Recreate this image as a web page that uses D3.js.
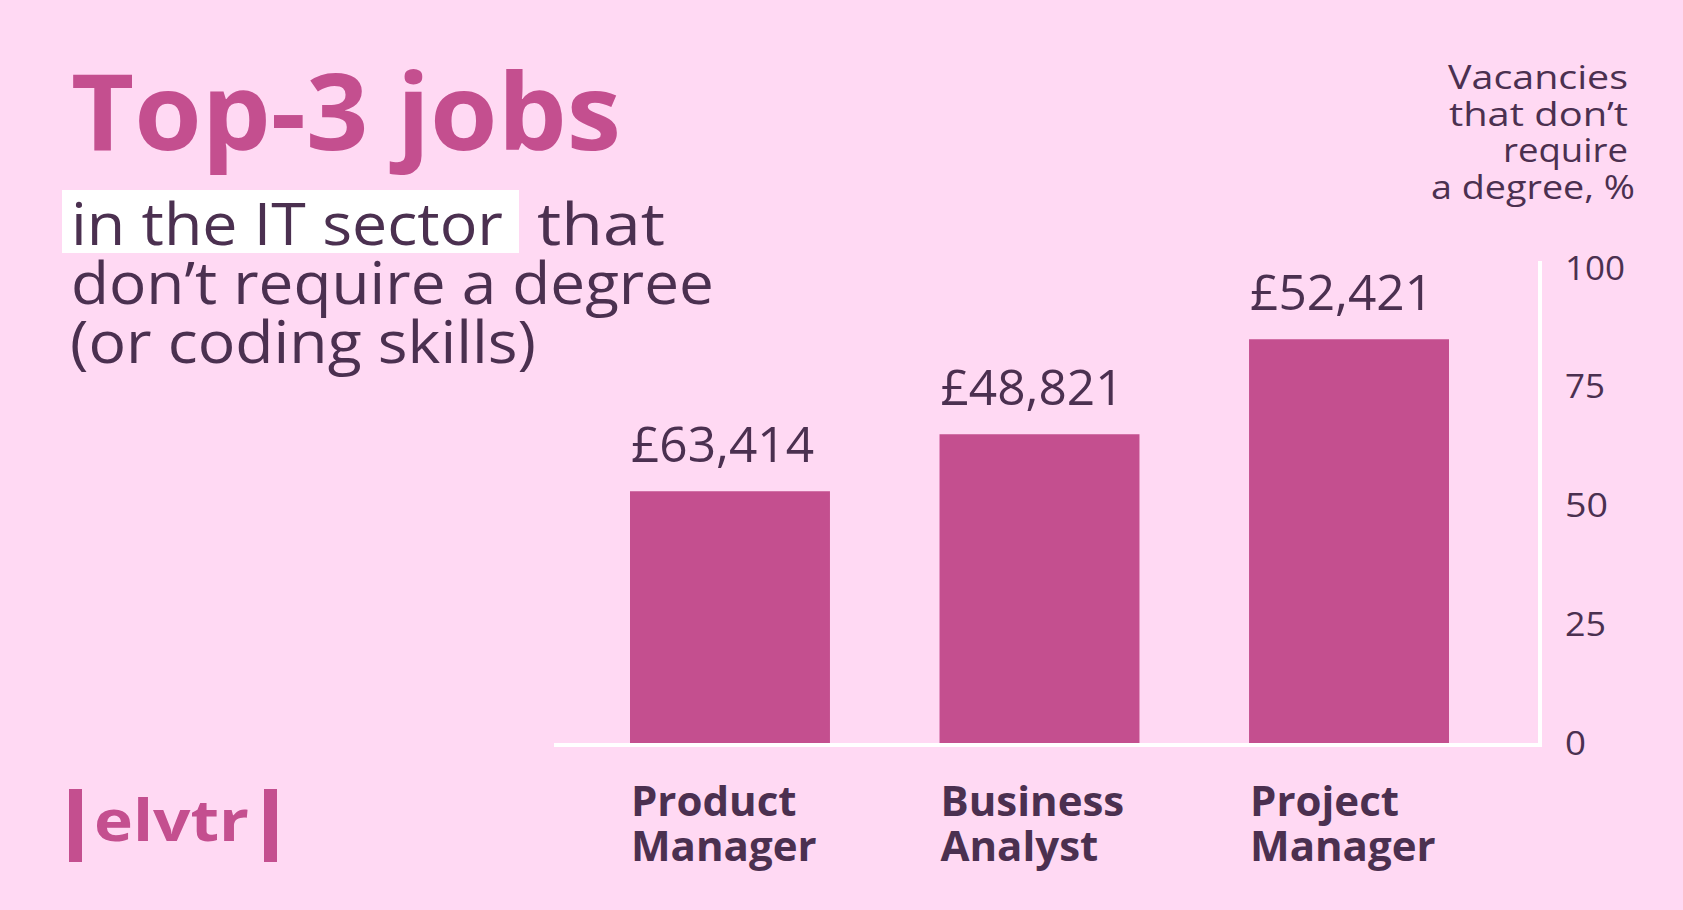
<!DOCTYPE html>
<html>
<head>
<meta charset="utf-8">
<style>
  body { margin: 0; background: #ffd9f3; }
  svg { display: block; }
  text { font-family: "Open Sans", "Noto Sans", sans-serif; }
</style>
</head>
<body>
<svg width="1683" height="910"></svg>
<script src="https://d3js.org/d3.v7.min.js"></script>
<script>
// data
var jobs = ["Product Manager", "Business Analyst", "Project Manager"];
var noDegreeShare = [53, 65, 85];
var salaries = ["£63,414", "£48,821", "£52,421"];
var tickValues = [0, 25, 50, 75, 100];

var pink = "#c44f8f", dark = "#4b3050";

var svg = d3.select("svg");

svg.append("rect").attr("width", 1683).attr("height", 910).attr("fill", "#ffd9f3");

var x = d3.scaleBand().domain(jobs).range([630, 1449]).paddingInner(0.354).paddingOuter(0);
var y = d3.scaleLinear().domain([0, 100]).range([743, 268]);

// stretch a text to a width (the original face is wider than ours)
function fit(sel, w) {
  sel.attr("textLength", w).attr("lengthAdjust", "spacingAndGlyphs");
  return sel;
}

// title
fit(svg.append("text").attr("x", 71).attr("y", 150)
  .attr("font-size", 106).attr("font-weight", 700).attr("fill", pink)
  .text("Top-3 jobs"), 550);

// subtitle with highlight
svg.append("rect").attr("x", 62).attr("y", 190).attr("width", 457).attr("height", 63).attr("fill", "#fff");
var sub = [["in the IT sector", 71, 245, 432], ["that", 537, 245, 128],
           ["don’t require a degree", 71, 304, 643], ["(or coding skills)", 70, 363, 466]];
sub.forEach(function(s) {
  fit(svg.append("text").attr("x", s[1]).attr("y", s[2])
    .attr("font-size", 58).attr("fill", dark).text(s[0]), s[3]);
});

// axis title, top right
var axTitle = [["Vacancies", 89, 1628, 180], ["that don’t", 126, 1628, 179],
               ["require", 162, 1628, 125], ["a degree, %", 199, 1635, 204]];
svg.append("g").selectAll("text").data(axTitle).join("text")
  .attr("x", function(d) { return d[2]; })
  .attr("y", function(d) { return d[1]; })
  .attr("text-anchor", "end")
  .attr("font-size", 32).attr("fill", dark)
  .text(function(d) { return d[0]; })
  .each(function(d) { fit(d3.select(this), d[3]); });

// bars
var rows = jobs.map(function(j, i) { return { job: j, v: noDegreeShare[i], s: salaries[i] }; });

svg.append("g").selectAll("rect").data(rows).join("rect")
  .attr("x", function(d) { return x(d.job); })
  .attr("y", function(d) { return y(d.v); })
  .attr("width", x.bandwidth())
  .attr("height", function(d) { return y(0) - y(d.v); })
  .attr("fill", pink);

// salary labels
svg.append("g").selectAll("text").data(rows).join("text")
  .attr("x", function(d) { return x(d.job) + 1; })
  .attr("y", function(d) { return y(d.v) - 29; })
  .attr("font-size", 50).attr("fill", dark)
  .text(function(d) { return d.s; })
  .each(function() { fit(d3.select(this), 183); });

// axis lines
svg.append("line").attr("x1", 554).attr("x2", 1542).attr("y1", 745).attr("y2", 745)
  .attr("stroke", "#fff").attr("stroke-width", 4);
svg.append("line").attr("x1", 1540).attr("x2", 1540).attr("y1", 261).attr("y2", 747)
  .attr("stroke", "#fff").attr("stroke-width", 4);

// right-hand ticks
var tickW = { 0: 21, 25: 41, 50: 43, 75: 40, 100: 60 };
var yAxis = d3.axisRight(y).tickValues(tickValues).tickSize(0).tickPadding(0);
var ax = svg.append("g").attr("transform", "translate(1565,0)").call(yAxis);
ax.select(".domain").remove();
ax.selectAll("text").attr("font-size", 32).attr("fill", dark)
  .attr("font-family", "\"Open Sans\", sans-serif").attr("dy", "0.35em")
  .each(function(d) { fit(d3.select(this), tickW[d]); });

// category labels
svg.append("g").selectAll("text").data(rows).join("text")
  .attr("x", function(d) { return x(d.job) + 1; })
  .attr("y", 816)
  .attr("font-size", 42).attr("font-weight", 700).attr("fill", dark)
  .each(function(d) {
    var words = d.job.split(" ");
    d3.select(this).selectAll("tspan").data(words).join("tspan")
      .attr("x", x(d.job) + 1)
      .attr("dy", function(w, i) { return i ? 45 : 0; })
      .text(function(w) { return w; });
  });

// logo
svg.append("rect").attr("x", 69).attr("y", 789).attr("width", 13).attr("height", 73).attr("fill", pink);
svg.append("rect").attr("x", 264).attr("y", 789).attr("width", 13).attr("height", 73).attr("fill", pink);
fit(svg.append("text").attr("x", 94).attr("y", 841)
  .attr("font-size", 58).attr("font-weight", 700).attr("fill", pink)
  .text("elvtr"), 155);
</script>
</body>
</html>
